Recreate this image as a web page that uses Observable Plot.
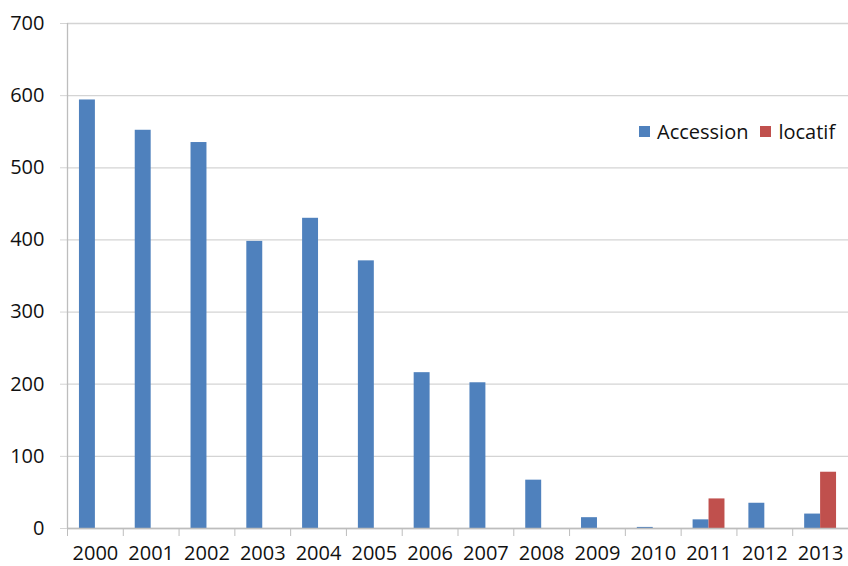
<!DOCTYPE html>
<html>
<head>
<meta charset="utf-8">
<script src="https://cdn.jsdelivr.net/npm/d3@7"></script>
<script src="https://cdn.jsdelivr.net/npm/@observablehq/plot@0.6"></script>
<style>
  body { margin: 0; background: #fff; }
  #chart { position: relative; width: 848px; height: 566px; font-family: "Open Sans", sans-serif; }
  #chart svg { display: block; }
  .legend { position: absolute; left: 639px; top: 118px; display: flex; align-items: center; font-size: 20px; color: #111; white-space: nowrap; }
  .legend .sw { display: inline-block; width: 11px; height: 11px; margin-right: 7px; }
  .legend .item { display: flex; align-items: center; margin-right: 12px; }
</style>
</head>
<body>
<div id="chart"></div>
<script>
// Annual counts by tenure type
const years     = [2000, 2001, 2002, 2003, 2004, 2005, 2006, 2007, 2008, 2009, 2010, 2011, 2012, 2013];
const accession = [594, 552, 535, 398, 430, 371, 216, 202, 67, 15, 1.5, 12, 35, 20];
const locatif   = [null, null, null, null, null, null, null, null, null, null, null, 41, null, 78];
const seriesNames  = ["Accession", "locatif"];
const seriesColors = ["#4f81bd", "#c0504d"];
const yTicks = [0, 100, 200, 300, 400, 500, 600, 700];

const rows = [];
years.forEach((year, i) => {
  if (accession[i] != null) rows.push({year, series: seriesNames[0], value: accession[i], slot: 0});
  if (locatif[i] != null) rows.push({year, series: seriesNames[1], value: locatif[i], slot: 1});
});

// Each year band holds two side-by-side bars, each 2/7 of the band wide
const barW = 2 / 7;
const bounds = years.map(y => y - 0.5);
const gridColor = "#d4d4d4";
const axisColor = "#bdbdbd";

const plot = Plot.plot({
  width: 848,
  height: 566,
  marginTop: 23,
  marginBottom: 38,
  marginLeft: 67,
  marginRight: 0,
  style: { fontFamily: "Open Sans, sans-serif", color: "#111", background: "#fff", overflow: "visible" },
  x: { type: "linear", domain: [years[0] - 0.5, years[years.length - 1] + 0.5] },
  y: { domain: [0, 700] },
  color: { domain: seriesNames, range: seriesColors },
  marks: [
    Plot.gridY(yTicks, { stroke: gridColor, strokeOpacity: 1, strokeWidth: 1.3 }),
    Plot.axisY(yTicks, { tickSize: 7, tickPadding: 16, fontSize: 20, stroke: gridColor, strokeOpacity: 1, label: null, tickFormat: d => d }),
    Plot.rectY(rows, {
      x1: d => d.year - barW + d.slot * barW,
      x2: d => d.year + d.slot * barW,
      y: "value",
      fill: "series"
    }),
    Plot.ruleX([years[0] - 0.5], { stroke: axisColor, strokeWidth: 1.3 }),
    Plot.ruleY([0], { stroke: axisColor, strokeWidth: 1.3 }),
    Plot.axisX(bounds, { tickSize: 8, stroke: axisColor, strokeOpacity: 1, tickFormat: () => "", label: null }),
    Plot.axisX(years, { tickSize: 0, tickPadding: 17, fontSize: 20, tickFormat: d => String(d), label: null })
  ]
});

const chart = document.getElementById("chart");
chart.appendChild(plot);

const legend = document.createElement("div");
legend.className = "legend";
seriesNames.forEach((name, i) => {
  const item = document.createElement("span");
  item.className = "item";
  const sw = document.createElement("span");
  sw.className = "sw";
  sw.style.background = seriesColors[i];
  item.appendChild(sw);
  item.appendChild(document.createTextNode(name));
  legend.appendChild(item);
});
chart.appendChild(legend);
</script>
</body>
</html>
